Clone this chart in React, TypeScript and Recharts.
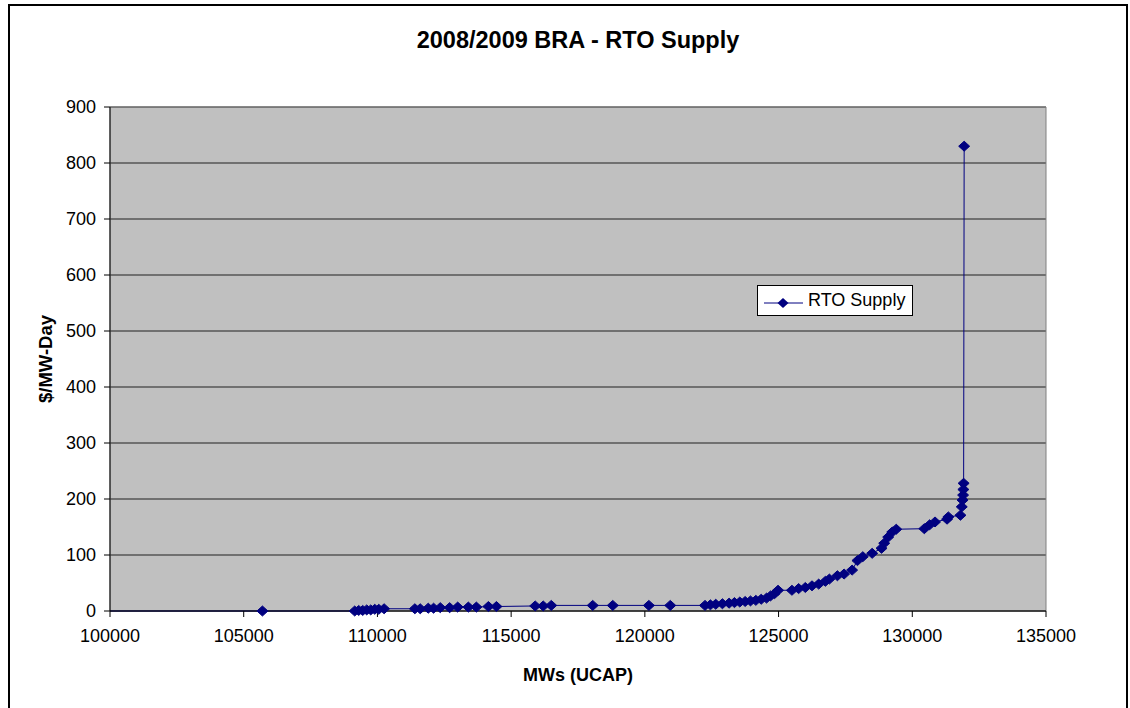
import { LineChart, Line, XAxis, YAxis, CartesianGrid, Legend, ReferenceArea, Label } from 'recharts'

// cumulative offered MW (UCAP) and offer price ($/MW-Day)
const mws = [
  100000, 105700, 109150, 109300, 109450, 109600, 109750, 109900, 110050, 110250,
  111400, 111600, 111900, 112100, 112350, 112700, 113000, 113400, 113700, 114150,
  114450, 115900, 116200, 116500, 118050, 118800, 120150, 120950, 122250, 122450,
  122650, 122900, 123150, 123350, 123550, 123750, 123950, 124150, 124350, 124550,
  124700, 124850, 124980, 125500, 125750, 126000, 126250, 126500, 126750, 126900,
  127200, 127450, 127750, 127950, 128150, 128500, 128850, 128950, 129100, 129250,
  129400, 130450, 130650, 130850, 131300, 131350, 131800, 131850, 131880, 131900,
  131910, 131920, 131940,
]
const prices = [
  0, 0, 0, 1, 1, 2, 2, 3, 3, 4,
  4, 4, 5, 5, 6, 6, 7, 7, 7, 8,
  8, 9, 9, 10, 10, 10, 10, 10, 10, 11,
  12, 13, 14, 15, 16, 17, 18, 19, 21, 23,
  27, 31, 37, 37, 40, 42, 45, 48, 53, 57,
  63, 66, 73, 90, 97, 103, 112, 121, 132, 141,
  146, 147, 154, 159, 164, 168, 171, 186, 198, 207,
  217, 228, 830,
]

const xTicks = [100000, 105000, 110000, 115000, 120000, 125000, 130000, 135000]
const yTicks = [0, 100, 200, 300, 400, 500, 600, 700, 800, 900]

const data = mws.map((mw, i) => ({ mw, price: prices[i] }))

const NAVY = '#000080'
const FONT = '"Liberation Sans", Arial, sans-serif'

const Diamond = (props: any) => {
  const { cx, cy, index } = props
  if (index === 0 || cx == null) return <g key={`d-${index}`} />
  return (
    <polygon
      key={`d-${index}`}
      points={`${cx},${cy - 5} ${cx + 5.5},${cy} ${cx},${cy + 5} ${cx - 5.5},${cy}`}
      fill={NAVY}
      stroke={NAVY}
      strokeWidth={1}
    />
  )
}

const LegendBox = () => (
  <div
    style={{
      width: 154,
      height: 29,
      border: '1px solid #000',
      background: '#fff',
      display: 'flex',
      alignItems: 'center',
      fontFamily: FONT,
      fontSize: 18,
      color: '#000',
    }}
  >
    <svg width={46} height={29} style={{ display: 'block' }}>
      <line x1={6} y1={17} x2={45} y2={17} stroke={NAVY} strokeWidth={1} />
      <polygon points="25,12 30.5,17 25,22 19.5,17" fill={NAVY} />
    </svg>
    <span style={{ marginLeft: 4 }}>RTO Supply</span>
  </div>
)

export default function App() {
  return (
    <div style={{ position: 'absolute', left: 0, top: 0, width: 1130, height: 708, overflow: 'hidden', background: '#fff' }}>
      <div
        style={{
          position: 'absolute',
          left: 8,
          top: 4,
          width: 1116,
          height: 720,
          border: '2px solid #000',
        }}
      />
      <div
        style={{
          position: 'absolute',
          left: 110,
          width: 936,
          top: 27,
          textAlign: 'center',
          fontFamily: FONT,
          fontWeight: 'bold',
          fontSize: 23.5,
          color: '#000',
        }}
      >
        2008/2009 BRA - RTO Supply
      </div>
      <div style={{ position: 'absolute', left: 0, top: 0 }}>
        <LineChart width={1130} height={708} data={data} margin={{ top: 107, right: 84, left: 10, bottom: 17 }}>
          <CartesianGrid vertical={false} stroke="#202020" fill="#C0C0C0" fillOpacity={1} />
          <ReferenceArea x1={100000} x2={135000} y1={0} y2={900} fill="none" stroke="#808080" strokeWidth={1} ifOverflow="extendDomain" />
          <XAxis
            dataKey="mw"
            type="number"
            domain={[100000, 135000]}
            ticks={xTicks}
            interval={0}
            height={80}
            stroke="#000"
            tickSize={6}
            tickMargin={12}
            tick={{ fill: '#000', fontSize: 18, fontFamily: FONT }}
          >
            <Label
              value="MWs (UCAP)"
              position="insideBottom"
              offset={10}
              style={{ fill: '#000', fontSize: 18, fontWeight: 'bold', fontFamily: FONT }}
            />
          </XAxis>
          <YAxis
            type="number"
            domain={[0, 900]}
            ticks={yTicks}
            interval={0}
            width={100}
            stroke="#000"
            tickSize={6}
            tickMargin={8}
            tick={{ fill: '#000', fontSize: 18, fontFamily: FONT }}
          >
            <Label
              value="$/MW-Day"
              angle={-90}
              position="insideLeft"
              offset={35}
              style={{ fill: '#000', fontSize: 18.5, fontWeight: 'bold', fontFamily: FONT, textAnchor: 'middle' }}
            />
          </YAxis>
          <Legend
            layout="vertical"
            align="center"
            verticalAlign="middle"
            wrapperStyle={{ position: 'absolute', left: 757, top: 285, width: 156 }}
            content={() => <LegendBox />}
          />
          <Line
            type="linear"
            dataKey="price"
            name="RTO Supply"
            stroke={NAVY}
            strokeWidth={1}
            dot={Diamond}
            activeDot={false}
            isAnimationActive={false}
          />
        </LineChart>
      </div>
    </div>
  )
}
